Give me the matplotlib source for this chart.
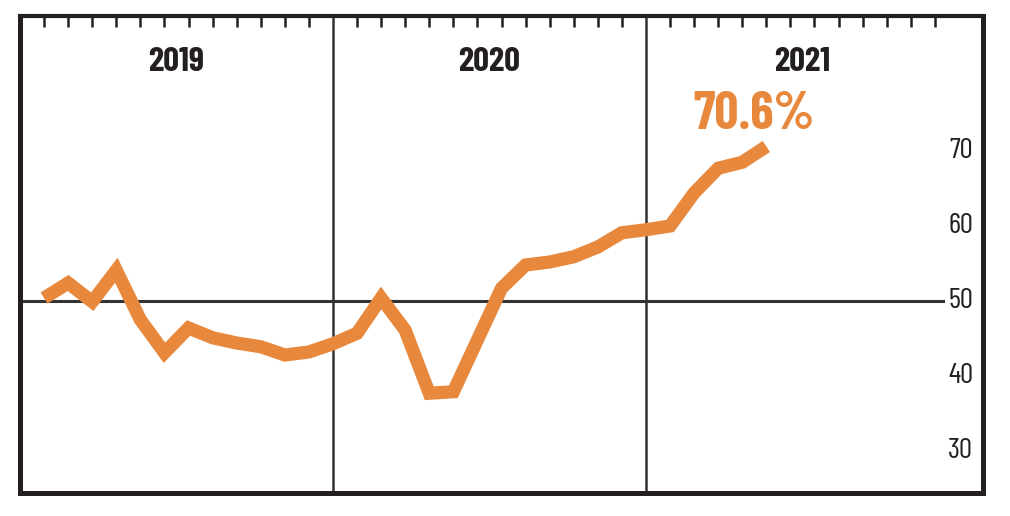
import matplotlib
matplotlib.use("Agg")
import matplotlib.pyplot as plt
from matplotlib.transforms import blended_transform_factory

# monthly share (%); one slot per tick, the year dividers
# take up a slot of their own
x_pos = list(range(1, 32))
share = [50.4, 52.4, 49.9, 54.1, 47.5, 43.1, 46.4, 45.1, 44.4, 43.9, 42.8, 43.2,
         44.3,
         45.7, 50.4, 46.1, 37.7, 37.9, 44.8, 51.7, 54.8, 55.2, 55.9, 57.2, 59.1,
         59.5,
         60.0, 64.4, 67.7, 68.5, 70.6]

years = ["2019", "2020", "2021"]
year_mid = [6.5, 19.5, 32.5]
dividers = [13, 26]
month_ticks = [t for t in range(1, 39) if t not in dividers]
y_labels = [30, 40, 50, 60, 70]
last_label = "70.6%"

ORANGE = "#E8883C"
INK = "#231F20"
narrow = ["Barlow Condensed", "DejaVu Sans"]

fig = plt.figure(figsize=(10.1, 5.16), dpi=100)
ax = fig.add_axes([20 / 1010, 1 - 493 / 516, 963 / 1010, 477 / 516])
ax.set_xlim(0, 40)
ax.set_ylim(24.4, 88.0)

for sp in ax.spines.values():
    sp.set_linewidth(3.6)
    sp.set_color(INK)
ax.spines["top"].set_linewidth(3.0)

ax.set_yticks([])
ax.set_xticks(month_ticks)
ax.tick_params(axis="x", which="both", top=True, bottom=False, labeltop=False,
               labelbottom=False, direction="in", length=8, width=1.8, color=INK)

for d in dividers:
    ax.axvline(d, color="#333333", lw=1.8, zorder=1)
ax.axhline(50, xmin=0, xmax=0.958, color="#333333", lw=2.2, zorder=1)

ax.plot(x_pos, share, color=ORANGE, lw=9.5, solid_joinstyle="miter",
        solid_capstyle="butt", zorder=3)

for yr, xm in zip(years, year_mid):
    ax.text(xm, 81.9, yr, ha="center", va="center", fontsize=25,
            fontweight="bold", family=narrow, color=INK)

ax.text(x_pos[-1] - 0.5, share[-1] + 4.2, last_label, ha="center", va="center",
        fontsize=38, fontweight="bold", family=narrow, color=ORANGE)

tr = blended_transform_factory(ax.transAxes, ax.transData)
for v in y_labels:
    ax.text(0.99, v, str(v), transform=tr, ha="right", va="center",
            fontsize=21, family=narrow, color=INK)

fig.savefig("out.png", dpi=100)
